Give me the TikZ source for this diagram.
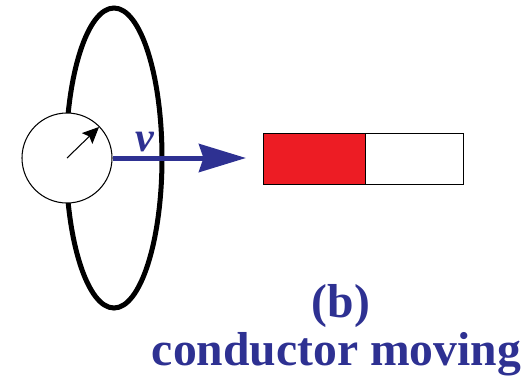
\documentclass[tikz,border=0pt]{standalone}
\usepackage{fontspec}
\setmainfont{Liberation Serif}
\usetikzlibrary{arrows.meta,positioning}
\definecolor{motionblue}{HTML}{2E3192}
\definecolor{magnetred}{HTML}{ED1C24}

\begin{document}
\begin{tikzpicture}[
  gauge/.style={draw, circle, fill=white, line width=0.6pt, minimum size=1.8cm, inner sep=0pt},
  magnet/.style={draw, line width=0.4pt, minimum width=2.04cm, minimum height=1.02cm, inner sep=0pt},
  lab/.style={font=\fontsize{27.1}{30}\selectfont\bfseries, text=motionblue, inner sep=0pt, anchor=base}
]
  \useasboundingbox (0,0) rectangle (10.6,7.52);
  % loop of wire behind the meter
  \draw[line width=0.1cm] (2.28,4.36) ellipse (0.96 and 3);
  \node[gauge] (meter) at (1.34,4.36) {};
  \coordinate (needle) at (1.98,4.98);
  \draw[line width=0.6pt, -{Stealth[length=0.33cm, width=0.3cm, inset=0.06cm]}] (meter.center) -- (needle);
  % magnet, red half and white half
  \node[magnet, fill=magnetred, minimum width=2.04cm] (north) at (6.28,4.35) {};
  \node[magnet, fill=white, minimum width=1.96cm, right=0pt of north] (south) {};
  \coordinate (tip) at (4.92,4.36);
  \draw[motionblue, line width=0.1cm, -{Stealth[length=0.94cm, width=0.56cm, inset=0.09cm]}] (meter) -- (tip);
  \node[lab, font=\fontsize{24}{28}\selectfont\bfseries\itshape] (speed) at (2.9,4.5) {v};
  \node[lab] (panel) at (6.82,1.18) {(b)};
  \node[lab] (caption) at (6.73,0.22) {conductor moving};
\end{tikzpicture}
\end{document}
